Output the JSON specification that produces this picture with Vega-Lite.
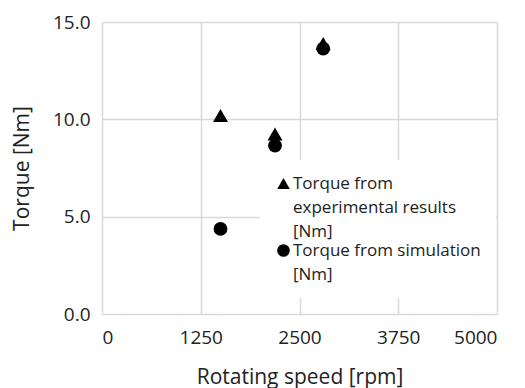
{
  "$schema": "https://vega.github.io/schema/vega-lite/v6.json",
  "width": 395,
  "height": 292,
  "autosize": {"type": "none"},
  "padding": {"left": 102, "top": 22, "right": 28, "bottom": 74},
  "background": "white",
  "config": {
    "font": "Open Sans",
    "view": {"stroke": null},
    "style": {"guide-label": {"lineHeight": 24}},
    "axis": {"gridColor": "#d9d9d9", "gridWidth": 1.5, "ticks": false, "domain": false, "labelFont": "Open Sans", "labelFontSize": 19, "labelColor": "#222", "titleFont": "Open Sans", "titleFontSize": 21, "titleFontWeight": "normal", "titleColor": "#222"}
  },
  "data": {
    "values": [
      {"rpm": 1500, "torque": 10.2, "series": "exp"},
      {"rpm": 2190, "torque": 9.25, "series": "exp"},
      {"rpm": 2800, "torque": 13.9, "series": "exp"},
      {"rpm": 1500, "torque": 4.37, "series": "sim"},
      {"rpm": 2190, "torque": 8.65, "series": "sim"},
      {"rpm": 2800, "torque": 13.63, "series": "sim"}
    ]
  },
  "mark": {"type": "point", "filled": true, "opacity": 1, "color": "black"},
  "encoding": {
    "x": {"field": "rpm", "type": "quantitative", "title": "Rotating speed [rpm]",
      "scale": {"domain": [0, 5000], "nice": false, "zero": true},
      "axis": {"values": [0, 1250, 2500, 3750, 5000], "format": "d", "labelPadding": 14, "titlePadding": 19}},
    "y": {"field": "torque", "type": "quantitative", "title": "Torque [Nm]",
      "scale": {"domain": [0, 15], "nice": false},
      "axis": {"values": [0, 5, 10, 15], "format": ".1f", "labelPadding": 12, "titlePadding": 20}},
    "shape": {"field": "series", "type": "nominal",
      "scale": {"domain": ["exp", "sim"], "range": ["triangle-up", "circle"]},
      "legend": {
        "title": null, "orient": "none", "legendX": 158, "legendY": 138,
        "fillColor": "white", "padding": 15,
        "labelFont": "Open Sans", "labelFontSize": 17, "labelColor": "#222", "labelLimit": 300,
        "labelExpr": "datum.value == 'exp' ? ['Torque from', 'experimental results', '[Nm]'] : ['Torque from simulation', '[Nm]']",
        "labelBaseline": "middle", "labelOffset": 1,
        "symbolSize": 160, "symbolFillColor": "black", "symbolStrokeColor": "black", "symbolOpacity": 1,
        "rowPadding": 1
      }
    },
    "size": {"condition": {"test": "datum.series == 'exp'", "value": 225}, "value": 190}
  }
}
